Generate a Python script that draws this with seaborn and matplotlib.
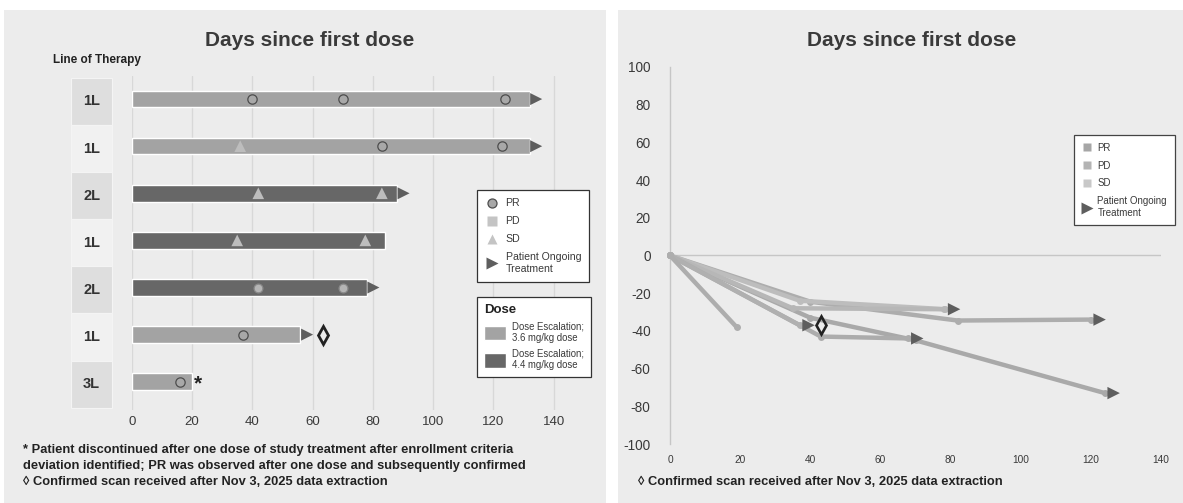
import numpy as np
import pandas as pd
import seaborn as sns
import matplotlib.pyplot as plt
from matplotlib.patches import Rectangle, Patch
from matplotlib.lines import Line2D

# ---- swimmer data (left) ----
line_of_therapy = ['1L', '1L', '2L', '1L', '2L', '1L', '3L']
duration = [132, 132, 88, 84, 78, 56, 20]
dose_level = ['3.6', '3.6', '4.4', '4.4', '4.4', '3.6', '3.6']
ongoing = [True, True, True, False, True, True, False]
pr_days = [[40, 70, 124], [83, 123], [], [], [42, 70], [37], [16]]
sd_days = [[], [36], [42, 83], [35, 77.5], [], [], []]
late_scan_day = {5: 63.5}   # confirmed scan after data cut
discontinued = [6]

# ---- spider data (right) ----
spider_days = [[0, 40, 70, 124], [0, 40, 82, 120], [0, 37, 78.5],
               [0, 35, 78], [0, 43, 68], [0, 37], [0, 19]]
spider_change = [[0, -33, -45, -73], [0, -24.5, -34.5, -34], [0, -24, -28.5],
                 [0, -28, -28.5], [0, -43, -44], [0, -37], [0, -38]]
spider_ongoing = [True, True, True, False, True, True, False]
spider_late_scan = {5: (43, -37)}

footnote_star = ['* Patient discontinued after one dose of study treatment after enrollment criteria',
                 'deviation identified; PR was observed after one dose and subsequently confirmed']
footnote_diamond = '\u25ca Confirmed scan received after Nov 3, 2025 data extraction'

W, H = 1183, 503
sns.set_theme(style='white')
plt.rcParams['font.family'] = ['Liberation Sans', 'DejaVu Sans']
plt.rcParams['axes.unicode_minus'] = False
txt = '#3a3a3a'

fig = plt.figure(figsize=(W / 100, H / 100), dpi=100)
fig.patch.set_facecolor('white')


def fx(x):
    return x / W


def fy(y):
    return 1 - y / H


# panel backgrounds
fig.patches.append(Rectangle((fx(4), 0), fx(606 - 4), fy(10), transform=fig.transFigure,
                             facecolor='#ececec', edgecolor='none', zorder=-10))
fig.patches.append(Rectangle((fx(618), 0), fx(W - 618), fy(10), transform=fig.transFigure,
                             facecolor='#ececec', edgecolor='none', zorder=-10))

# ================= left: swimmer plot =================
px_per_day = 3.014
xmax = 150
ax = fig.add_axes([fx(131.7), fy(410), fx(xmax * px_per_day), (410 - 76) / H])
ax.set_facecolor('none')

pids = [f'P{i}' for i in range(len(duration))]
bars_df = pd.DataFrame({'pid': pids, 'days': duration, 'dose': dose_level})
sns.barplot(data=bars_df, x='days', y='pid', hue='dose', order=pids,
            hue_order=['3.6', '4.4'], palette={'3.6': '#a3a3a3', '4.4': '#676767'},
            dodge=False, width=0.35, orient='h', saturation=1, legend=False, ax=ax,
            zorder=2)

pr_rows = [(d, pids[i], dose_level[i]) for i, ds in enumerate(pr_days) for d in ds]
pr_df = pd.DataFrame(pr_rows, columns=['day', 'pid', 'dose'])
sd_rows = [(d, pids[i]) for i, ds in enumerate(sd_days) for d in ds]
sd_df = pd.DataFrame(sd_rows, columns=['day', 'pid'])

sns.scatterplot(data=pr_df[pr_df.dose == '3.6'], x='day', y='pid', marker='o', s=45,
                color='#a8a8a8', edgecolor='#4d4d4d', linewidth=0.9, ax=ax, zorder=4)
sns.scatterplot(data=pr_df[pr_df.dose == '4.4'], x='day', y='pid', marker='o', s=40,
                color='#b5b5b5', edgecolor='#8a8a8a', linewidth=0.9, ax=ax, zorder=4)
sns.scatterplot(data=sd_df, x='day', y='pid', marker='^', s=70, color='#bdbdbd',
                edgecolor='none', ax=ax, zorder=4)

arrow_df = pd.DataFrame({'day': [d + 2.2 for d, o in zip(duration, ongoing) if o],
                         'pid': [p for p, o in zip(pids, ongoing) if o]})
sns.scatterplot(data=arrow_df, x='day', y='pid', marker='>', s=75, color='#5e5e5e',
                edgecolor='none', ax=ax, zorder=4)

for i, d in late_scan_day.items():
    ax.plot(d, i, marker='d', ms=9, mfc='none', mec='#222222', mew=2.0, zorder=5)
for i in discontinued:
    ax.text(duration[i] + 0.8, i + 0.05, '*', fontsize=15, fontweight='bold',
            color='#222222', va='center', ha='left')

# line of therapy boxes
for i, lab in enumerate(line_of_therapy):
    shade = '#dedede' if i % 2 == 0 else '#f1f1f1'
    ax.add_patch(Rectangle((-20.1, i - 0.45), 13.6, 1.0, facecolor=shade,
                           edgecolor='#f4f4f4', lw=0.8, clip_on=False, zorder=1))
    ax.text(-13.3, i + 0.05, lab, ha='center', va='center', fontsize=10.5,
            fontweight='bold', color='#333333')

ax.set_xlim(0, xmax)
ax.set_ylim(6.6, -0.49)
ax.set_xticks(range(0, 141, 20))
ax.xaxis.grid(True, color='#d8d8d8', lw=1)
ax.set_axisbelow(True)
ax.set_yticks([])
ax.set_xlabel('')
ax.set_ylabel('')
ax.tick_params(axis='x', length=0, pad=4, labelsize=9.5, labelcolor=txt)
sns.despine(ax=ax, left=True, bottom=True)

fig.text(fx(310), fy(40), 'Days since first dose', ha='center', va='center',
         fontsize=15, fontweight='bold', color=txt)
fig.text(fx(53), fy(60), 'Line of Therapy', ha='left', va='center', fontsize=8.5,
         fontweight='bold', color='#222222')

resp_handles = [
    Line2D([], [], ls='', marker='o', ms=6.5, mfc='#a8a8a8', mec='#4d4d4d', mew=0.9),
    Line2D([], [], ls='', marker='s', ms=6.5, mfc='#c4c4c4', mec='none'),
    Line2D([], [], ls='', marker='^', ms=7.5, mfc='#c4c4c4', mec='none'),
    Line2D([], [], ls='', marker='>', ms=8.5, mfc='#5e5e5e', mec='none'),
]
leg1 = fig.legend(resp_handles, ['PR', 'PD', 'SD', 'Patient Ongoing\nTreatment'],
                  loc='upper left', bbox_to_anchor=(fx(477), fy(190)), fontsize=7.6,
                  frameon=True, fancybox=False, edgecolor='#333333', framealpha=1,
                  handlelength=1.2, handletextpad=0.7, labelspacing=0.75,
                  borderpad=0.8, borderaxespad=0)
leg1.get_frame().set_linewidth(0.9)
for t in leg1.get_texts():
    t.set_color(txt)

dose_handles = [Patch(facecolor='#a3a3a3'), Patch(facecolor='#676767')]
leg2 = fig.legend(dose_handles, ['Dose Escalation;\n3.6 mg/kg dose', 'Dose Escalation;\n4.4 mg/kg dose'],
                  title='Dose', loc='upper left', bbox_to_anchor=(fx(477), fy(297)),
                  fontsize=6.9, frameon=True, fancybox=False, edgecolor='#333333',
                  framealpha=1, handlelength=2.3, handleheight=1.9, handletextpad=0.7,
                  labelspacing=0.6, borderpad=0.7, borderaxespad=0, alignment='left')
leg2.get_frame().set_linewidth(0.9)
leg2.get_title().set_fontweight('bold')
leg2.get_title().set_fontsize(9.5)
leg2.get_title().set_color('#222222')
for t in leg2.get_texts():
    t.set_color(txt)

for k, line in enumerate(footnote_star):
    fig.text(fx(23), fy(450 + 16 * k), line, ha='left', va='center', fontsize=9.3,
             fontweight='bold', color='#222222')
fig.text(fx(23), fy(482), footnote_diamond, ha='left', va='center', fontsize=9.3,
         fontweight='bold', color='#222222')

# ================= right: spider plot =================
ax2 = fig.add_axes([fx(670), fy(444), fx(1161 - 670), (444 - 67) / H])
ax2.set_facecolor('none')

sp_rows = []
for k, (ds, cs) in enumerate(zip(spider_days, spider_change)):
    for order, (d, c) in enumerate(zip(ds, cs)):
        sp_rows.append((f'S{k}', order, d, c))
sp_df = pd.DataFrame(sp_rows, columns=['pid', 'visit', 'day', 'change'])
grays = ['#a9a9a9', '#adadad', '#bdbdbd', '#b7b7b7', '#acacac', '#b0b0b0', '#adadad']
sns.lineplot(data=sp_df, x='day', y='change', hue='pid', palette=grays, units='pid',
             estimator=None, sort=False, lw=3.2, marker='o', ms=5, mec='none',
             legend=False, ax=ax2, clip_on=False, zorder=3)

sp_arrow = pd.DataFrame({'day': [ds[-1] + 2.5 for ds, o in zip(spider_days, spider_ongoing) if o],
                         'change': [cs[-1] for cs, o in zip(spider_change, spider_ongoing) if o]})
sns.scatterplot(data=sp_arrow, x='day', y='change', marker='>', s=80, color='#5e5e5e',
                edgecolor='none', ax=ax2, zorder=5)
for k, (d, c) in spider_late_scan.items():
    ax2.plot(d, c, marker='d', ms=9, mfc='none', mec='#222222', mew=1.9, zorder=6)

ax2.axhline(0, color='#c6c6c6', lw=1, zorder=1)
ax2.set_xlim(0, 140)
ax2.set_ylim(-100, 100)
ax2.set_xticks(range(0, 141, 20))
ax2.set_yticks(range(-100, 101, 20))
ax2.set_xlabel('')
ax2.set_ylabel('')
ax2.tick_params(axis='x', length=0, pad=8, labelsize=7.3, labelcolor=txt)
ax2.tick_params(axis='y', length=0, pad=14, labelsize=9.8, labelcolor=txt)
sns.despine(ax=ax2, bottom=True)
ax2.spines['left'].set_color('#c6c6c6')
ax2.spines['left'].set_linewidth(1)

fig.text(fx(912), fy(41), 'Days since first dose', ha='center', va='center',
         fontsize=15, fontweight='bold', color=txt)

resp2_handles = [
    Line2D([], [], ls='', marker='s', ms=6.2, mfc='#a6a6a6', mec='none'),
    Line2D([], [], ls='', marker='s', ms=6.2, mfc='#b4b4b4', mec='none'),
    Line2D([], [], ls='', marker='s', ms=6.2, mfc='#c8c8c8', mec='none'),
    Line2D([], [], ls='', marker='>', ms=8.5, mfc='#5e5e5e', mec='none'),
]
leg3 = fig.legend(resp2_handles, ['PR', 'PD', 'SD', 'Patient Ongoing\nTreatment'],
                  loc='upper left', bbox_to_anchor=(fx(1074), fy(135)), fontsize=7.0,
                  frameon=True, fancybox=False, edgecolor='#444444', framealpha=1,
                  handlelength=1.1, handletextpad=0.5, labelspacing=0.8,
                  borderpad=0.8, borderaxespad=0)
leg3.get_frame().set_linewidth(0.9)
for t in leg3.get_texts():
    t.set_color(txt)

fig.text(fx(638), fy(482), footnote_diamond, ha='left', va='center', fontsize=9.3,
         fontweight='bold', color='#222222')

fig.savefig('out.png', dpi=100)
